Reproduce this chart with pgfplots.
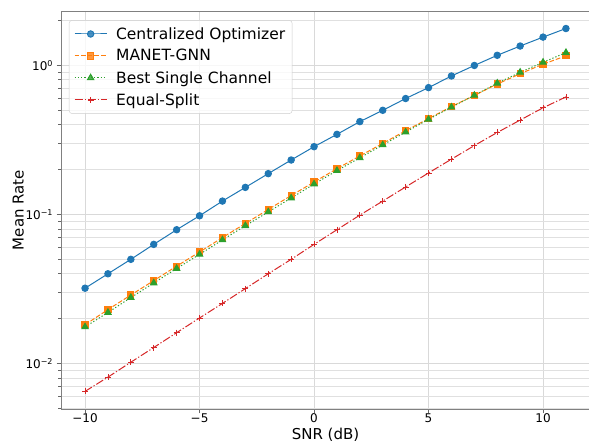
\documentclass[border=0pt]{standalone}
\usepackage{fontspec}
\setmainfont{DejaVu Sans}
\usepackage{pgfplots}
\pgfplotsset{compat=1.18}
\definecolor{tabblue}{HTML}{1F77B4}
\definecolor{taborange}{HTML}{FF7F0E}
\definecolor{tabgreen}{HTML}{2CA02C}
\definecolor{tabred}{HTML}{D62728}

\begin{document}
\begin{tikzpicture}
\begin{axis}[
  scale only axis, width=529pt, height=398pt,
  ymode=log,
  xmin=-11.05, xmax=12.05, ymin=0.00495, ymax=2.32,
  xtick={-10,-5,0,5,10}, xticklabels={−10,−5,0,5,10},
  minor x tick num=0,
  ytick={0.01,0.1,1},
  yticklabels={10\textsuperscript{−2},10\textsuperscript{−1},10\textsuperscript{0}},
  minor ytick={0.005,0.006,0.007,0.008,0.009,0.02,0.03,0.04,0.05,0.06,0.07,0.08,0.09,
               0.2,0.3,0.4,0.5,0.6,0.7,0.8,0.9,2},
  tick align=outside, tick pos=left,
  major tick length=4.4pt, minor tick length=2.5pt,
  every tick/.style={black!60, line width=0.8pt},
  axis line style={black!50, line width=0.8pt},
  xmajorgrids, ymajorgrids, yminorgrids,
  major grid style={black!15, line width=0.8pt},
  minor grid style={black!12, line width=0.8pt},
  ticklabel style={font=\fontsize{12}{14}\selectfont},
  xticklabel style={yshift=3pt},
  xlabel={SNR (dB)}, ylabel={Mean Rate},
  label style={font=\fontsize{15}{18}\selectfont},
  xlabel style={at={(axis description cs:0.5,-0.066)}, anchor=center},
  ylabel style={at={(axis description cs:-0.081,0.5)}, anchor=center},
  legend cell align=left,
  legend image code/.code={\draw[mark repeat=2,mark phase=2,#1] plot coordinates {(0pt,0pt) (16pt,0pt) (32pt,0pt)};},
  legend style={at={(0.015,0.977)}, anchor=north west, draw=black!20, rounded corners=3pt,
    fill=white, fill opacity=0.8, text opacity=1, font=\fontsize{15.5}{18}\selectfont,
    inner xsep=5pt, inner ysep=5pt, row sep=4.8pt, column sep=7pt},
]
\coordinate (sw) at (rel axis cs:0,0);
\addplot[tabblue, line width=1pt, mark=*, mark size=3.2pt, mark options={solid}] coordinates {
(-10,0.032) (-9,0.040) (-8,0.050) (-7,0.063) (-6,0.079) (-5,0.098) (-4,0.123) (-3,0.152)
(-2,0.188) (-1,0.232) (0,0.285) (1,0.345) (2,0.42) (3,0.50) (4,0.60) (5,0.71) (6,0.85)
(7,1.00) (8,1.17) (9,1.35) (10,1.55) (11,1.77)};
\addlegendentry{Centralized Optimizer}
\addplot[taborange, line width=1pt, dash pattern=on 4.6pt off 2pt, mark=square*, mark size=3.1pt, mark options={solid}] coordinates {
(-10,0.0182) (-9,0.023) (-8,0.0288) (-7,0.036) (-6,0.045) (-5,0.056) (-4,0.070) (-3,0.087)
(-2,0.108) (-1,0.134) (0,0.165) (1,0.203) (2,0.247) (3,0.300) (4,0.365) (5,0.44) (6,0.53)
(7,0.63) (8,0.75) (9,0.88) (10,1.02) (11,1.16)};
\addlegendentry{MANET-GNN}
\addplot[tabgreen, line width=1pt, dash pattern=on 1.25pt off 2pt, mark=triangle*, mark size=3.6pt, mark options={solid}] coordinates {
(-10,0.0176) (-9,0.022) (-8,0.0277) (-7,0.0347) (-6,0.0434) (-5,0.054) (-4,0.0675) (-3,0.084)
(-2,0.104) (-1,0.129) (0,0.160) (1,0.197) (2,0.240) (3,0.293) (4,0.357) (5,0.435) (6,0.525)
(7,0.63) (8,0.76) (9,0.90) (10,1.05) (11,1.22)};
\addlegendentry{Best Single Channel}
\addplot[tabred, line width=1pt, dash pattern=on 8pt off 2pt on 1.25pt off 2pt, mark=+, mark size=3pt, mark options={solid, line width=0.8pt}] coordinates {
(-10,0.0065) (-9,0.0081) (-8,0.0102) (-7,0.0128) (-6,0.0161) (-5,0.0202) (-4,0.0253) (-3,0.0318)
(-2,0.0400) (-1,0.050) (0,0.063) (1,0.079) (2,0.099) (3,0.123) (4,0.153) (5,0.19) (6,0.235)
(7,0.29) (8,0.355) (9,0.43) (10,0.52) (11,0.615)};
\addlegendentry{Equal-Split}
\end{axis}
\pgfresetboundingbox
\path[use as bounding box] (sw) ++(-61pt,-34pt) rectangle ++(589pt,443pt);
\end{tikzpicture}
\end{document}
